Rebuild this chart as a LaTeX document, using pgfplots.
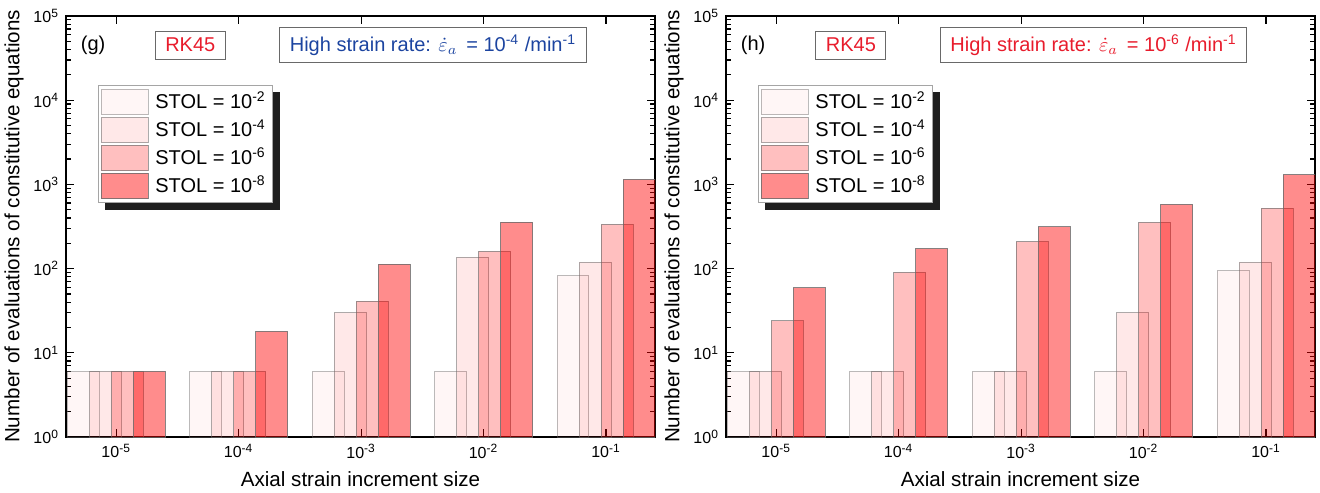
\documentclass[border=0pt]{standalone}
\usepackage{fontspec}
\setmainfont{Liberation Sans}
\usepackage{pgfplots}
\pgfplotsset{compat=1.18}

\definecolor{txtred}{RGB}{232,28,44}
\definecolor{txtblue}{RGB}{28,68,160}
\definecolor{edge}{RGB}{105,105,105}

\tikzset{boxlab/.style={draw=edge, line width=0.5pt, inner xsep=5pt, inner ysep=3.5pt, font=\fontsize{10}{12}\selectfont}}

\pgfplotsset{
  rkpanel/.style={
    width=294.5pt, height=210.5pt, scale only axis,
    xmin=-0.41, xmax=4.40,
    ymin=1, ymax=1e5,
    xtick={0,1,2,3,4},
    xticklabels={10\textsuperscript{-5},10\textsuperscript{-4},10\textsuperscript{-3},10\textsuperscript{-2},10\textsuperscript{-1}},
    yticklabel={10\textsuperscript{\pgfmathparse{int(round(\tick))}\pgfmathresult}},
    tick label style={font=\fontsize{8}{9.5}\selectfont},
    label style={font=\fontsize{10.3}{12}\selectfont},
    xlabel={Axial strain increment size},
    ylabel={Number of evaluations of constitutive equations},
    ylabel shift=-2pt,
    axis line style={line width=0.7pt},
    tick style={black, line width=0.6pt},
    major tick length=4.2pt, minor tick length=2.4pt,
    legend cell align=left,
    legend image code/.code={\draw[##1] (0pt,-6.4pt) rectangle (23.5pt,6.4pt);},
    legend style={at={(rel axis cs:0.054,0.836)}, anchor=north west,
      draw=edge!60, fill=white, inner sep=1.2pt, row sep=0pt, column sep=1.5pt,
      font=\fontsize{10}{12}\selectfont},
  },
  s1/.style={ybar, bar width=0.26, bar shift=-0.27, fill=red, fill opacity=0.035, draw=edge, draw opacity=0.45},
  s2/.style={ybar, bar width=0.26, bar shift=-0.09, fill=red, fill opacity=0.09, draw=edge, draw opacity=0.55},
  s3/.style={ybar, bar width=0.26, bar shift=0.09, fill=red, fill opacity=0.25, draw=edge, draw opacity=0.65},
  s4/.style={ybar, bar width=0.26, bar shift=0.27, fill=red, fill opacity=0.45, draw=edge, draw opacity=0.8},
}

\begin{document}
\begin{tikzpicture}
\useasboundingbox (-33pt,-27.5pt) rectangle (627pt,218.5pt);

\begin{axis}[ymode=log, log basis y=10, rkpanel, legend style={name=legg}]
\addplot[s1] coordinates {(0,6) (1,6) (2,6) (3,6) (4,83)};
\addplot[s2] coordinates {(0,6) (1,6) (2,30) (3,137) (4,119)};
\addplot[s3] coordinates {(0,6) (1,6) (2,41) (3,160) (4,335)};
\addplot[s4] coordinates {(0,6) (1,18) (2,113) (3,357) (4,1150)};
\legend{STOL = 10\textsuperscript{-2}, STOL = 10\textsuperscript{-4}, STOL = 10\textsuperscript{-6}, STOL = 10\textsuperscript{-8}}
\node[font=\fontsize{10}{12}\selectfont] at (rel axis cs:0.046,0.931) {(g)};
\node[boxlab, text=txtred] at (rel axis cs:0.211,0.931) {RK45};
\node[boxlab, text=txtblue] at (rel axis cs:0.623,0.931) {High strain rate: $\dot{\varepsilon}_a$\, = 10\textsuperscript{-4} /min\textsuperscript{-1}};
\end{axis}
\fill[black!88] ([shift={(0pt,-3.5pt)}]legg.north east) rectangle ([shift={(3.5pt,-3.5pt)}]legg.south east);
\fill[black!88] ([shift={(3.5pt,0pt)}]legg.south west) rectangle ([shift={(0pt,-3.5pt)}]legg.south east);

\begin{axis}[ymode=log, log basis y=10, rkpanel, at={(330pt,0pt)}, legend style={name=legh}]
\addplot[s1] coordinates {(0,6) (1,6) (2,6) (3,6) (4,95)};
\addplot[s2] coordinates {(0,6) (1,6) (2,6) (3,30) (4,119)};
\addplot[s3] coordinates {(0,24) (1,90) (2,209) (3,354) (4,523)};
\addplot[s4] coordinates {(0,59) (1,173) (2,314) (3,578) (4,1310)};
\legend{STOL = 10\textsuperscript{-2}, STOL = 10\textsuperscript{-4}, STOL = 10\textsuperscript{-6}, STOL = 10\textsuperscript{-8}}
\node[font=\fontsize{10}{12}\selectfont] at (rel axis cs:0.046,0.931) {(h)};
\node[boxlab, text=txtred] at (rel axis cs:0.212,0.931) {RK45};
\node[boxlab, text=txtred] at (rel axis cs:0.624,0.931) {High strain rate: $\dot{\varepsilon}_a$\, = 10\textsuperscript{-6} /min\textsuperscript{-1}};
\end{axis}
\fill[black!88] ([shift={(0pt,-3.5pt)}]legh.north east) rectangle ([shift={(3.5pt,-3.5pt)}]legh.south east);
\fill[black!88] ([shift={(3.5pt,0pt)}]legh.south west) rectangle ([shift={(0pt,-3.5pt)}]legh.south east);
\end{tikzpicture}
\end{document}
